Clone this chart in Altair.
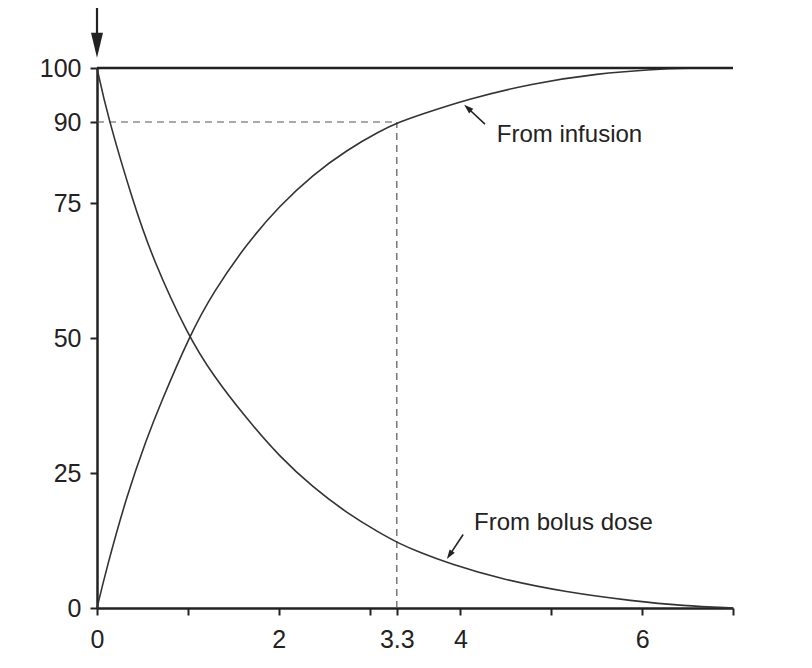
import altair as alt
import pandas as pd

# Values
bolus_t = [0, 0.11, 0.40, 0.62, 1.0, 1.28, 1.65, 2.01, 2.38, 2.75, 3.11, 3.33, 3.55, 3.88, 4.43, 5.17, 5.9, 6.45, 7]
bolus_v = [100, 91.5, 75, 64.4, 50.5, 43, 35, 28, 22.3, 17.6, 13.9, 11.9, 10.3, 8.2, 5.4, 2.9, 1.3, 0.4, 0]
infusion_t = [0, 0.1, 0.33, 0.55, 0.69, 1.02, 1.28, 1.65, 2.01, 2.38, 2.75, 3.11, 3.33, 3.55, 4.07, 4.8, 5.53, 6.08, 6.5, 7]
infusion_v = [0, 7, 21, 31.5, 37.5, 50.5, 58.5, 67.5, 74.5, 80.3, 84.8, 88.3, 90, 91.3, 94.2, 97.2, 99.0, 99.7, 100, 100]

x_ticks = [0, 1, 2, 3, 3.3, 4, 5, 6, 7]
x_labelled = [0, 2, 3.3, 4, 6]
y_ticks = [0, 25, 50, 75, 90, 100]

steady_level = 100
ninety_level = 90
ninety_time = 3.3

labels = ["From infusion", "From bolus dose"]
label_x = [4.4, 4.15]
label_y = [87.6, 15.8]

# annotation arrows: start and tip
arrow_x1 = [4.27, 4.03]
arrow_y1 = [89.6, 13.6]
arrow_x2 = [4.08, 3.88]
arrow_y2 = [92.6, 9.8]
arrow_angle = [312, 214]

FONT = "Liberation Sans"
INK = "#222222"

xs = alt.Scale(domain=[0, 7], nice=False, zero=False)
ys = alt.Scale(domain=[0, 100], nice=False)

label_expr = "indexof(" + str(x_labelled) + ", datum.value) >= 0 ? toString(datum.value) : ''"

curves = pd.DataFrame(
    {"t": bolus_t + infusion_t,
     "v": bolus_v + infusion_v,
     "s": ["bolus"] * len(bolus_t) + ["infusion"] * len(infusion_t)}
)

base_axes = alt.Chart(pd.DataFrame({"t": [0, 7], "v": [0, 0]})).mark_line(opacity=0).encode(
    x=alt.X("t:Q", scale=xs,
            axis=alt.Axis(values=x_ticks, title=None, grid=False,
                          labelExpr=label_expr,
                          labelFont=FONT, labelFontSize=25, labelColor=INK,
                          labelPadding=12, tickSize=7, tickWidth=2, tickColor=INK,
                          domainColor=INK, domainWidth=2.5, labelFlush=False,
                          labelOverlap=False)),
    y=alt.Y("v:Q", scale=ys,
            axis=alt.Axis(values=y_ticks, title=None, grid=False,
                          labelFont=FONT, labelFontSize=25, labelColor=INK,
                          labelPadding=9, tickSize=7, tickWidth=2, tickColor=INK,
                          domainColor=INK, domainWidth=2.5, labelOverlap=False)),
)

curve_layer = alt.Chart(curves).mark_line(color="#333333", strokeWidth=1.6, interpolate="basis").encode(
    x=alt.X("t:Q", scale=xs, axis=None),
    y=alt.Y("v:Q", scale=ys, axis=None),
    detail="s:N",
)

top_line = alt.Chart(pd.DataFrame({"a": [0], "b": [7], "v": [steady_level]})).mark_rule(
    color=INK, strokeWidth=2.5).encode(
    x=alt.X("a:Q", scale=xs, axis=None), x2="b:Q", y=alt.Y("v:Q", scale=ys, axis=None))

dash_h = alt.Chart(pd.DataFrame({"a": [0], "b": [ninety_time], "v": [ninety_level]})).mark_rule(
    color="#555555", strokeWidth=1.2, strokeDash=[7, 5]).encode(
    x=alt.X("a:Q", scale=xs, axis=None), x2="b:Q", y=alt.Y("v:Q", scale=ys, axis=None))

dash_v = alt.Chart(pd.DataFrame({"t": [ninety_time], "a": [0], "b": [ninety_level]})).mark_rule(
    color="#555555", strokeWidth=1.2, strokeDash=[7, 5]).encode(
    x=alt.X("t:Q", scale=xs, axis=None), y=alt.Y("a:Q", scale=ys, axis=None), y2="b:Q")

# dosing arrow at time 0 above the plot
dose_shaft = alt.Chart(pd.DataFrame({"t": [0], "a": [103], "b": [111.3]})).mark_rule(
    color=INK, strokeWidth=2.2, clip=False).encode(
    x=alt.X("t:Q", scale=xs, axis=None), y=alt.Y("a:Q", scale=ys, axis=None), y2="b:Q")
dose_head = alt.Chart(pd.DataFrame({"t": [0], "v": [104.2]})).mark_point(
    shape="M-0.48,-1L0.48,-1L0,1Z", size=625, filled=True, color=INK, opacity=1, clip=False).encode(
    x=alt.X("t:Q", scale=xs, axis=None), y=alt.Y("v:Q", scale=ys, axis=None))

ann = pd.DataFrame({"label": labels, "lx": label_x, "ly": label_y,
                    "x1": arrow_x1, "y1": arrow_y1, "x2": arrow_x2, "y2": arrow_y2,
                    "ang": arrow_angle})

ann_text = alt.Chart(ann).mark_text(font=FONT, fontSize=24, color=INK, align="left", baseline="middle").encode(
    x=alt.X("lx:Q", scale=xs, axis=None), y=alt.Y("ly:Q", scale=ys, axis=None), text="label:N")

ann_shaft = alt.Chart(ann).mark_rule(color=INK, strokeWidth=1.6).encode(
    x=alt.X("x1:Q", scale=xs, axis=None), y=alt.Y("y1:Q", scale=ys, axis=None),
    x2="x2:Q", y2="y2:Q")

ann_head = alt.Chart(ann).mark_point(shape="M0,-1L0.65,1L-0.65,1Z", size=90, filled=True,
                                     color=INK, opacity=1).encode(
    x=alt.X("x2:Q", scale=xs, axis=None), y=alt.Y("y2:Q", scale=ys, axis=None),
    angle=alt.Angle("ang:Q", scale=None))

chart = alt.layer(
    base_axes, dash_h, dash_v, curve_layer, top_line, dose_shaft, dose_head,
    ann_shaft, ann_head, ann_text
).resolve_axis(x="independent", y="independent").properties(
    width=636, height=540,
    padding={"left": 89, "top": 60, "right": 60, "bottom": 50},
    autosize=alt.AutoSizeParams(type="none"),
    background="white",
).configure_view(stroke=None)

chart.save("out.html", embed_options={"renderer": "svg", "actions": False})
